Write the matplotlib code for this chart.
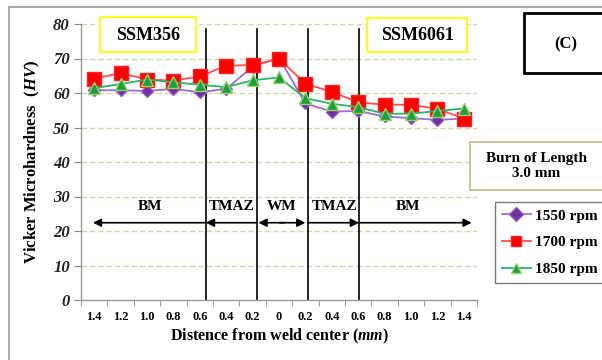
import matplotlib
matplotlib.use("Agg")
import matplotlib.pyplot as plt
from matplotlib.patches import Rectangle
from matplotlib.lines import Line2D

# ---- data ----
distance_labels = ["1.4", "1.2", "1.0", "0.8", "0.6", "0.4", "0.2", "0",
                   "0.2", "0.4", "0.6", "0.8", "1.0", "1.2", "1.4"]
rpm_1550 = [60.8, 60.8, 60.6, 61.2, 60.2, 61.2, 67.6, 70.2,
            57.0, 54.6, 54.8, 53.2, 52.7, 52.2, 52.6]
rpm_1700 = [64.1, 65.8, 63.9, 63.6, 64.8, 67.9, 68.1, 69.9,
            62.7, 60.3, 57.3, 56.6, 56.6, 55.4, 52.6]
rpm_1850 = [61.4, 62.6, 63.9, 63.1, 62.4, 61.7, 63.7, 64.5,
            58.5, 56.9, 55.9, 54.0, 54.0, 54.8, 55.5]
series_labels = ["1550 rpm", "1700 rpm", "1850 rpm"]
zone_labels = ["BM", "TMAZ", "WM", "TMAZ", "BM"]
zone_bounds = [4.23, 6.17, 8.1, 10.03]

plt.rcParams["font.family"] = ["Liberation Serif", "DejaVu Serif"]
plt.rcParams["font.weight"] = "bold"
plt.rcParams["mathtext.fontset"] = "custom"
plt.rcParams["mathtext.rm"] = "Liberation Serif:bold"
plt.rcParams["mathtext.it"] = "Liberation Serif:italic:bold"
plt.rcParams["mathtext.bf"] = "Liberation Serif:bold"

W, H = 602, 360
fig = plt.figure(figsize=(W / 100, H / 100), dpi=100)

def fx(px):
    return px / W

def fy(py):
    return 1 - py / H

ax = fig.add_axes([fx(81), fy(300), fx(477) - fx(81), fy(24) - fy(300)])
x = list(range(len(distance_labels)))

ax.plot(x, rpm_1550, color="#9B6FCC", lw=1.3, marker="D", ms=6,
        mfc="#7030A0", mec="#8E5CC7", label=series_labels[0], zorder=3)
ax.plot(x, rpm_1700, color="#FF5050", lw=1.3, marker="s", ms=9.5,
        mfc="#FF0000", mec="#FF2020", label=series_labels[1], zorder=4)
ax.plot(x, rpm_1850, color="#2EB36B", lw=1.3, marker="^", ms=9,
        mfc="#1E9E3E", mec="#9BD36A", label=series_labels[2], zorder=5)

ax.set_xlim(-0.5, 14.5)
ax.set_ylim(0, 80)
ax.set_yticks(range(0, 81, 10))
ax.set_yticklabels([str(v) for v in range(0, 81, 10)], fontsize=12,
                   style="italic", fontweight="bold", color="#222222")
ax.set_xticks(x)
ax.set_xticklabels(distance_labels, fontsize=9, fontweight="bold")
ax.set_xticks([i - 0.5 for i in range(16)], minor=True)
ax.tick_params(axis="x", which="major", length=0, pad=8)
ax.tick_params(axis="x", which="minor", length=4, color="#888888", direction="out")
ax.tick_params(axis="y", length=5, color="#888888", pad=3)

for s in ["top", "right"]:
    ax.spines[s].set_visible(False)
for s in ["left", "bottom"]:
    ax.spines[s].set_color("#999999")
    ax.spines[s].set_linewidth(1.0)

for v in range(10, 81, 10):
    ax.axhline(v, color="#D9D3B8", lw=1.0, ls=(0, (4, 2)), zorder=0)

ax.set_ylabel("Vicker Microhardness  ($\\mathit{HV}$)", fontsize=12,
              fontweight="bold", labelpad=8)
ax.set_xlabel("Distence from weld center ($\\mathit{mm}$)", fontsize=11.5,
              fontweight="bold", labelpad=3)

# zone boundary lines
for b in zone_bounds:
    ax.plot([b, b], [0, 78.6], color="black", lw=1.2, zorder=2)

# arrows
ay = 22.4
arrow_kw = dict(arrowstyle="-|>", color="black", lw=1.2, mutation_scale=12,
                shrinkA=0, shrinkB=0)
ax.annotate("", xy=(-0.05, ay), xytext=(zone_bounds[0], ay), arrowprops=arrow_kw)
ax.annotate("", xy=(zone_bounds[0], ay), xytext=(zone_bounds[1], ay), arrowprops=arrow_kw)
ax.annotate("", xy=(zone_bounds[1] + 0.05, ay), xytext=(7.2, ay), arrowprops=arrow_kw)
ax.annotate("", xy=(zone_bounds[2] - 0.1, ay), xytext=(7.0, ay), arrowprops=arrow_kw)
ax.annotate("", xy=(zone_bounds[3], ay), xytext=(zone_bounds[2], ay), arrowprops=arrow_kw)
ax.annotate("", xy=(14.3, ay), xytext=(zone_bounds[3], ay), arrowprops=arrow_kw)

zone_x = [2.1, 5.2, 7.1, 9.1, 11.9]
for zx, zl in zip(zone_x, zone_labels):
    ax.text(zx, 27.2, zl, ha="center", va="center", fontsize=11, fontweight="bold")

# boxes
def fig_box(x0, y0, x1, y1, ec, lw):
    fig.patches.append(Rectangle((fx(x0), fy(y1)), fx(x1) - fx(x0), fy(y0) - fy(y1),
                                 transform=fig.transFigure, fill=True, fc="white",
                                 ec=ec, lw=lw, zorder=10))

fig_box(100, 17, 196, 52, "#FFFF00", 1.3)
fig.text(fx(148), fy(35), "SSM356", ha="center", va="center", fontsize=13,
         fontweight="bold", zorder=11)
fig_box(367, 18, 467, 52, "#FFFF00", 1.3)
fig.text(fx(417), fy(35), "SSM6061", ha="center", va="center", fontsize=13,
         fontweight="bold", zorder=11)
fig_box(524, 13, 606, 73, "black", 2.0)
fig.text(fx(566), fy(44), "(C)", ha="center", va="center", fontsize=12,
         fontweight="bold", zorder=11)
fig_box(470, 142, 606, 190, "#C8B98A", 1.2)
fig.text(fx(536), fy(166), "Burn of Length\n3.0 mm", ha="center", va="center",
         fontsize=11, fontweight="bold", linespacing=1.2, zorder=11)

leg = fig.legend(loc="upper left", bbox_to_anchor=(fx(495), fy(202)),
                 fontsize=11, frameon=True, fancybox=False, edgecolor="#555555",
                 handlelength=1.9, handletextpad=0.25, borderpad=0.45,
                 labelspacing=0.85, borderaxespad=0)
leg.get_frame().set_linewidth(1.0)
for h in leg.legend_handles:
    h.set_markersize(7)

# outer chart border
fig.add_artist(Line2D([fx(9), fx(9)], [fy(7), 0], color="#AAAAAA", lw=1.5,
                      transform=fig.transFigure))
fig.add_artist(Line2D([fx(9), 1], [fy(7), fy(7)], color="#AAAAAA", lw=1.5,
                      transform=fig.transFigure))

fig.savefig("out.png", dpi=100, facecolor="white")
